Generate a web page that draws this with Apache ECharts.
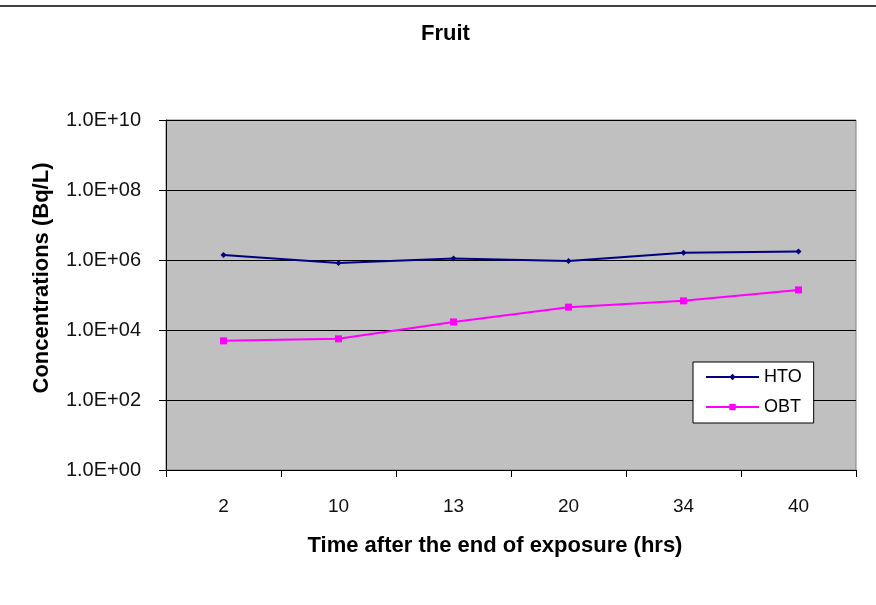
<!DOCTYPE html>
<html>
<head>
<meta charset="utf-8">
<script src="https://cdn.jsdelivr.net/npm/echarts@6/dist/echarts.min.js"></script>
<style>
  html, body { margin: 0; padding: 0; background: #fff; }
  #chart { width: 876px; height: 605px; }
</style>
</head>
<body>
<div id="chart"></div>
<script>
// Sampling times (hours after end of exposure)
const categories = ['2', '10', '13', '20', '34', '40'];
// Tritium concentrations in fruit (Bq/L)
const htoValues = [1.4e6, 8.2e5, 1.1e6, 9.3e5, 1.6e6, 1.75e6];
const obtValues = [4.9e3, 5.6e3, 1.7e4, 4.5e4, 6.8e4, 1.4e5];

const font = '"Liberation Sans", Arial, sans-serif';

function sciLabel(v) {
  const e = Math.round(Math.log10(v));
  return '1.0E+' + String(e).padStart(2, '0');
}

const chart = echarts.init(document.getElementById('chart'));
chart.setOption({
  animation: false,
  backgroundColor: '#ffffff',
  title: {
    text: 'Fruit',
    left: 421,
    top: 23,
    padding: 0,
    textStyle: { fontFamily: font, fontSize: 22, fontWeight: 'bold', color: '#000' }
  },
  graphic: [
    {
      type: 'line',
      shape: { x1: 0, y1: 6, x2: 876, y2: 6 },
      style: { stroke: '#000', lineWidth: 1.5 }
    }
  ],
  grid: {
    left: 166, right: 20, top: 120, bottom: 135,
    show: true,
    backgroundColor: '#c0c0c0',
    borderColor: '#808080',
    borderWidth: 1
  },
  legend: {
    orient: 'vertical',
    left: 693,
    top: 362,
    backgroundColor: '#ffffff',
    borderColor: '#000',
    borderWidth: 1,
    borderRadius: 0,
    padding: [6, 12, 7, 12],
    itemWidth: 53,
    itemHeight: 8,
    itemGap: 12,
    textStyle: { fontFamily: font, fontSize: 18, color: '#000' },
    data: ['HTO', 'OBT']
  },
  xAxis: {
    type: 'category',
    data: categories,
    boundaryGap: true,
    name: 'Time after the end of exposure (hrs)',
    nameLocation: 'middle',
    nameGap: 65,
    nameTextStyle: {
      fontFamily: font, fontSize: 22, fontWeight: 'bold', color: '#000',
      padding: [0, 32, 0, 0]
    },
    axisLine: { lineStyle: { color: '#000', width: 1 } },
    axisTick: { show: true, length: 7, alignWithLabel: false, lineStyle: { color: '#000' } },
    axisLabel: { fontFamily: font, fontSize: 19, color: '#111', margin: 27 },
    splitLine: { show: false }
  },
  yAxis: {
    type: 'log',
    logBase: 10,
    min: 1,
    max: 1e10,
    interval: 2,
    name: 'Concentrations (Bq/L)',
    nameLocation: 'middle',
    nameGap: 113,
    nameTextStyle: {
      fontFamily: font, fontSize: 22, fontWeight: 'bold', color: '#000',
      padding: [0, 0, 0, 34]
    },
    axisLine: { show: true, lineStyle: { color: '#000', width: 1 } },
    axisTick: { show: true, length: 7, lineStyle: { color: '#000' } },
    axisLabel: { fontFamily: font, fontSize: 20, color: '#111', margin: 25, formatter: sciLabel },
    splitLine: { show: true, lineStyle: { color: '#000', width: 1 } }
  },
  series: [
    {
      name: 'HTO',
      type: 'line',
      data: htoValues,
      color: '#000080',
      lineStyle: { width: 2, color: '#000080' },
      symbol: 'diamond',
      symbolSize: 6,
      itemStyle: { color: '#000080' }
    },
    {
      name: 'OBT',
      type: 'line',
      data: obtValues,
      color: '#ff00ff',
      lineStyle: { width: 2, color: '#ff00ff' },
      symbol: 'rect',
      symbolSize: 7,
      itemStyle: { color: '#ff00ff' }
    }
  ]
});
</script>
</body>
</html>
